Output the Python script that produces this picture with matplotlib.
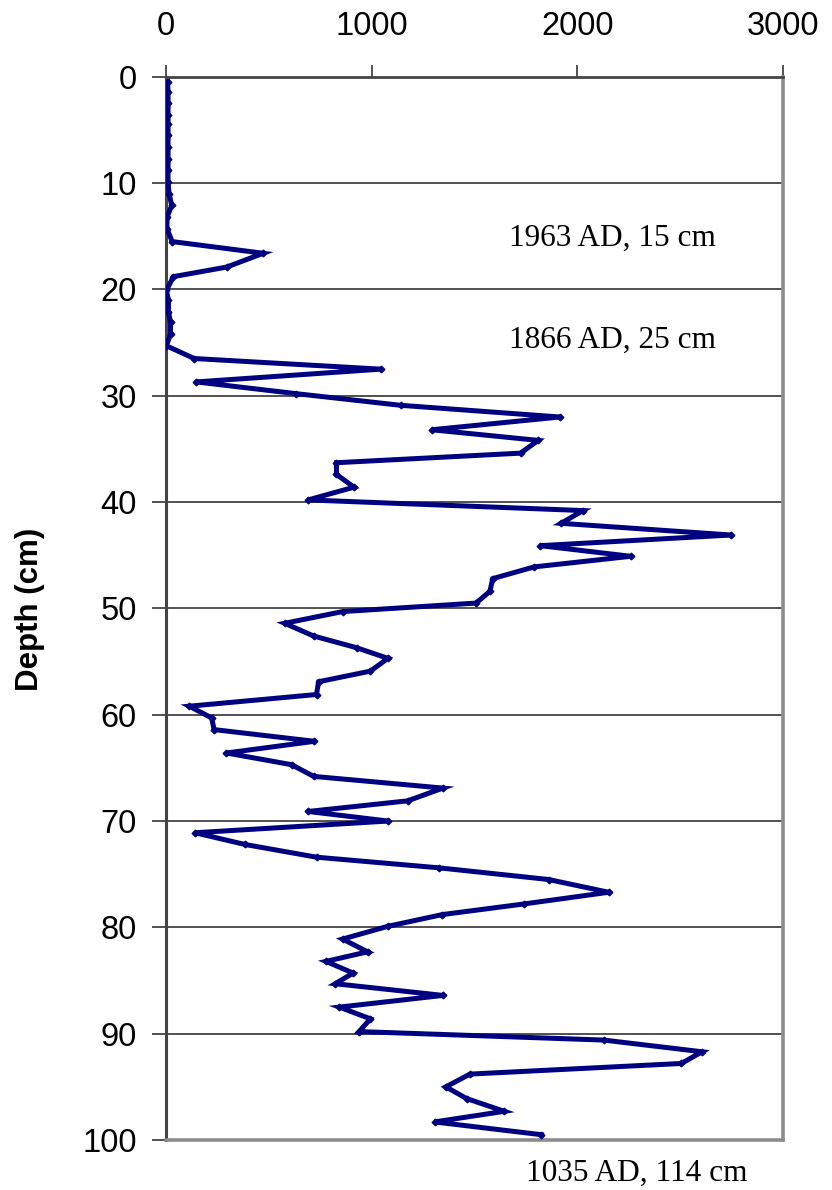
import matplotlib
matplotlib.use("Agg")
import matplotlib.pyplot as plt

# depth below surface (cm) and measured value for each core slice
depth = [0.5, 1.4, 2.5, 3.6, 4.4, 5.5, 6.6, 7.7, 8.8, 9.9,
         11.0, 12.1, 13.2, 14.3, 15.5, 16.6, 17.9, 18.8, 20.1, 21.0,
         22.1, 23.1, 24.2, 25.3, 26.5, 27.5, 28.7, 29.8, 30.9, 32.0,
         33.2, 34.2, 35.4, 36.3, 37.4, 38.6, 39.8, 40.8, 42.0, 43.1,
         44.1, 45.1, 46.1, 47.2, 48.4, 49.5, 50.3, 51.4, 52.6, 53.7,
         54.7, 55.9, 56.9, 58.1, 59.2, 60.3, 61.4, 62.5, 63.6, 64.7,
         65.8, 66.9, 68.1, 69.1, 70.0, 71.1, 72.2, 73.4, 74.4, 75.5,
         76.7, 77.8, 78.8, 79.9, 81.1, 82.3, 83.2, 84.3, 85.3, 86.4,
         87.5, 88.6, 89.8, 90.6, 91.7, 92.8, 93.8, 95.0, 96.1, 97.3,
         98.3, 99.5]
value = [8, 10, 10, 10, 10, 10, 10, 10, 10, 10,
         15, 28, 5, 5, 30, 473, 295, 36, 2, 12,
         12, 22, 22, 2, 137, 1044, 147, 631, 1141, 1915,
         1292, 1810, 1724, 829, 829, 914, 691, 2028, 1921, 2748,
         1820, 2260, 1790, 1589, 1575, 1508, 859, 577, 718, 927,
         1079, 994, 742, 732, 113, 222, 234, 722, 294, 611,
         718, 1347, 1175, 691, 1081, 141, 383, 732, 1327, 1861,
         2153, 1740, 1343, 1079, 859, 980, 778, 910, 823, 1347,
         843, 994, 939, 2129, 2607, 2506, 1478, 1361, 1462, 1645,
         1306, 1826]

x_ticks = [0, 1000, 2000, 3000]
y_ticks = [0, 10, 20, 30, 40, 50, 60, 70, 80, 90, 100]

# dated horizons written beside the profile
date_labels = ["1963 AD, 15 cm", "1866 AD, 25 cm", "1035 AD, 114 cm"]
date_xy = [(0.612, 0.8, ), (0.612, 0.714), (0.632, 0.014)]

fig = plt.figure(figsize=(8.32, 11.9), dpi=100)
ax = fig.add_axes([0.1995, 0.042, 0.7415, 0.8935])

ax.plot(value, depth, color="#000080", linewidth=3.6, marker="D",
        markersize=3.4, solid_joinstyle="miter", zorder=3)

ax.set_xlim(0, 3000)
ax.set_ylim(100, 0)
ax.set_xticks(x_ticks)
ax.set_yticks(y_ticks)

ax.xaxis.tick_top()
ax.tick_params(axis="x", direction="out", length=9, width=1.2,
               pad=16, labelsize=23.5, color="#333333")
ax.tick_params(axis="y", direction="out", length=10, width=1.2,
               pad=11, labelsize=23.5, color="#333333")
for lab in ax.get_xticklabels() + ax.get_yticklabels():
    lab.set_family("Liberation Sans")

ax.grid(axis="y", color="#222222", linewidth=1.1)
ax.set_axisbelow(True)

ax.spines["left"].set_color("#444444")
ax.spines["left"].set_linewidth(2.2)
ax.spines["top"].set_color("#444444")
ax.spines["top"].set_linewidth(2.0)
ax.spines["right"].set_color("#8c8c8c")
ax.spines["right"].set_linewidth(2.6)
ax.spines["bottom"].set_color("#8c8c8c")
ax.spines["bottom"].set_linewidth(2.6)

fig.text(0.036, 0.488, "Depth (cm)", rotation=90, ha="center", va="center",
         fontsize=22.5, fontweight="bold", family="Liberation Sans")

for txt, (tx, ty) in zip(date_labels, date_xy):
    fig.text(tx, ty, txt, ha="left", va="center", fontsize=22.5,
             family="Liberation Serif")

fig.savefig("out.png", dpi=100)
